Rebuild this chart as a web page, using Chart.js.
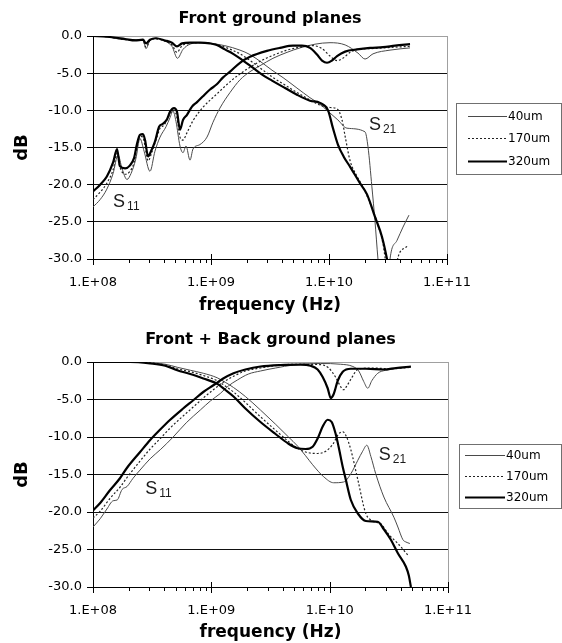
<!DOCTYPE html>
<html>
<head>
<meta charset="utf-8">
<title>S-parameters vs frequency</title>
<script src="https://cdn.jsdelivr.net/npm/chart.js@4.4.1/dist/chart.umd.min.js"></script>
<style>
  body { margin: 0; background: #fff; }
  canvas { display: block; }
</style>
</head>
<body>
<canvas id="front" width="562" height="321"></canvas>
<canvas id="back" width="562" height="322"></canvas>
<script>
// ground plane thicknesses, one legend entry each
const thicknesses = ['40um', '170um', '320um'];

// x axis ticks (Hz); only the decades get a label
const freqTicks = [1e8, 2e8, 3e8, 4e8, 5e8, 6e8, 7e8, 8e8, 9e8,
                   1e9, 2e9, 3e9, 4e9, 5e9, 6e9, 7e9, 8e9, 9e9,
                   1e10, 2e10, 3e10, 4e10, 5e10, 6e10, 7e10, 8e10, 9e10, 1e11];
const decadeTicks = [1e8, 1e9, 1e10, 1e11];
const decadeLabels = ['1.E+08', '1.E+09', '1.E+10', '1.E+11'];

// measured curves as [frequency (Hz), dB]

// front ground planes only
const frontS11_40 = [[1.00e8,-23.0],[1.15e8,-22.0],[1.31e8,-20.6],[1.48e8,-18.5],[1.63e8,-16.0],[1.76e8,-17.8],
  [1.94e8,-19.3],[2.10e8,-18.5],[2.31e8,-16.5],[2.50e8,-13.8],[2.71e8,-15.5],[3.04e8,-18.2],[3.35e8,-15.5],
  [3.70e8,-13.6],[4.16e8,-12.2],[4.49e8,-11.0],[4.76e8,-10.1],[5.05e8,-11.5],[5.46e8,-14.8],[5.79e8,-15.7],
  [6.14e8,-14.8],[6.64e8,-16.7],[7.04e8,-15.2],[8.07e8,-14.6],[9.25e8,-13.6],[1.04e9,-11.6],[1.19e9,-9.7],
  [1.45e9,-7.6],[1.76e9,-5.9],[2.14e9,-4.8],[2.60e9,-4.0],[3.35e9,-3.0],[4.41e9,-2.2],[5.68e9,-1.6],
  [7.61e9,-1.1],[1.02e10,-0.9],[1.37e10,-1.2],[1.76e10,-2.3],[2.02e10,-3.1],[2.36e10,-2.4],[3.29e10,-1.9],
  [4.86e10,-1.6]];
const frontS11_170 = [[1.00e8,-22.0],[1.15e8,-21.0],[1.31e8,-19.8],[1.48e8,-18.0],[1.60e8,-15.8],[1.69e8,-17.6],
  [1.87e8,-18.6],[2.06e8,-18.2],[2.23e8,-17.0],[2.36e8,-15.0],[2.50e8,-13.5],[2.65e8,-13.6],[2.76e8,-14.8],
  [2.93e8,-16.8],[3.16e8,-15.6],[3.42e8,-14.0],[3.70e8,-12.4],[4.00e8,-12.0],[4.32e8,-11.0],[4.58e8,-10.3],
  [4.86e8,-10.0],[5.15e8,-11.0],[5.46e8,-13.6],[5.79e8,-14.0],[6.26e8,-13.0],[7.04e8,-11.4],[8.55e8,-9.6],
  [1.12e9,-7.8],[1.54e9,-5.8],[2.14e9,-4.2],[2.76e9,-3.2],[3.35e9,-2.6],[4.41e9,-1.9],[5.68e9,-1.5],
  [7.31e9,-1.3],[8.73e9,-1.7],[1.02e10,-2.7],[1.17e10,-3.3],[1.31e10,-3.0],[1.51e10,-2.2],[1.73e10,-1.8],
  [2.23e10,-1.7],[2.87e10,-1.6],[3.63e10,-1.5],[4.86e10,-1.4]];
const frontS11_320 = [[1.00e8,-20.9],[1.15e8,-20.0],[1.31e8,-18.9],[1.48e8,-17.0],[1.60e8,-15.2],[1.69e8,-17.5],
  [1.87e8,-17.8],[2.06e8,-17.4],[2.23e8,-16.4],[2.36e8,-14.5],[2.50e8,-13.3],[2.65e8,-13.2],[2.76e8,-14.0],
  [2.93e8,-16.2],[3.10e8,-15.5],[3.35e8,-14.2],[3.63e8,-12.2],[3.92e8,-11.8],[4.24e8,-11.2],[4.49e8,-10.2],
  [4.86e8,-9.7],[5.15e8,-10.2],[5.46e8,-12.6],[5.79e8,-11.3],[6.26e8,-10.6],[6.90e8,-9.5],[7.61e8,-8.9],
  [8.55e8,-8.1],[9.81e8,-7.2],[1.12e9,-6.5],[1.26e9,-5.6],[1.45e9,-4.8],[1.76e9,-3.6],[2.14e9,-2.8],
  [2.98e9,-2.0],[3.84e9,-1.6],[4.95e9,-1.3],[5.90e9,-1.3],[6.90e9,-1.6],[7.91e9,-2.5],[8.73e9,-3.3],
  [9.62e9,-3.6],[1.06e10,-3.3],[1.17e10,-2.7],[1.37e10,-2.1],[1.73e10,-1.8],[2.23e10,-1.6],[2.87e10,-1.5],
  [3.63e10,-1.3],[4.86e10,-1.1]];
const frontS21_40 = [[1.00e8,0],[1.31e8,-0.1],[1.87e8,-0.5],[2.27e8,-0.5],[2.65e8,-0.5],[2.81e8,-1.7],[3.04e8,-0.6],
  [3.42e8,-0.3],[4.08e8,-0.7],[4.67e8,-1.4],[5.20e8,-3.0],[5.79e8,-1.8],[6.64e8,-1.1],[8.07e8,-0.9],
  [1.00e9,-1.0],[1.31e9,-1.3],[1.76e9,-1.9],[2.14e9,-2.5],[2.71e9,-3.6],[3.29e9,-4.6],[4.08e9,-5.6],
  [5.35e9,-7.0],[6.90e9,-8.3],[8.39e9,-9.2],[9.62e9,-10.0],[1.19e10,-11.3],[1.42e10,-12.4],[2.02e10,-12.9],
  [2.14e10,-14.9],[2.31e10,-20.3],[2.45e10,-24.8],[2.60e10,-30.0],[2.76e10,-34.0],[3.16e10,-34.0],
  [3.29e10,-30.0],[3.77e10,-27.5],[4.24e10,-25.7],[4.76e10,-24.1]];
const frontS21_170 = [[1.00e8,0],[1.31e8,-0.1],[1.87e8,-0.5],[2.27e8,-0.6],[2.65e8,-0.6],[2.81e8,-1.5],[3.04e8,-0.6],
  [3.42e8,-0.4],[4.08e8,-0.7],[4.67e8,-1.2],[5.15e8,-2.2],[5.68e8,-1.3],[6.64e8,-1.0],[8.07e8,-0.9],
  [1.00e9,-1.0],[1.31e9,-1.5],[1.76e9,-2.4],[2.23e9,-3.5],[2.71e9,-4.5],[3.29e9,-5.5],[4.24e9,-6.6],
  [5.35e9,-7.6],[6.90e9,-8.6],[8.39e9,-9.3],[9.81e9,-9.6],[1.17e10,-9.8],[1.29e10,-11.3],[1.37e10,-13.5],
  [1.51e10,-16.8],[1.73e10,-18.9],[1.94e10,-20.3],[2.23e10,-22.5],[2.55e10,-25.0],[2.87e10,-28.0],
  [3.04e10,-30.5],[3.29e10,-32.0],[3.70e10,-31.5],[3.84e10,-29.8],[4.58e10,-28.3]];
const frontS21_320 = [[1.00e8,0],[1.31e8,-0.1],[1.87e8,-0.4],[2.27e8,-0.6],[2.65e8,-0.5],[2.81e8,-1.0],[3.04e8,-0.5],
  [3.42e8,-0.3],[4.08e8,-0.6],[4.67e8,-0.9],[5.15e8,-1.4],[5.68e8,-1.0],[6.64e8,-0.9],[8.07e8,-0.9],
  [9.81e8,-1.0],[1.12e9,-1.2],[1.31e9,-1.8],[1.54e9,-2.4],[1.83e9,-3.2],[2.23e9,-4.2],[2.71e9,-5.2],
  [3.29e9,-6.0],[4.24e9,-7.0],[5.35e9,-7.9],[6.90e9,-8.7],[8.39e9,-9.0],[9.81e9,-10.0],[1.08e10,-12.4],
  [1.19e10,-14.6],[1.34e10,-16.3],[1.51e10,-17.6],[1.83e10,-19.8],[2.10e10,-21.3],[2.45e10,-24.3],
  [2.81e10,-27.0],[3.10e10,-30.0],[3.22e10,-31.5]];

// front + back ground planes
const backS11_40 = [[1.00e8,-22.0],[1.15e8,-20.9],[1.31e8,-19.6],[1.48e8,-18.5],[1.60e8,-18.4],[1.76e8,-17.0],
  [1.94e8,-16.6],[2.18e8,-15.5],[2.50e8,-14.4],[3.04e8,-12.9],[3.70e8,-11.7],[4.76e8,-10.0],[6.14e8,-8.1],
  [8.07e8,-6.4],[9.81e8,-5.2],[1.19e9,-4.2],[1.39e9,-3.2],[1.66e9,-2.4],[2.06e9,-1.6],[2.60e9,-1.2],
  [3.49e9,-0.8],[4.95e9,-0.4],[8.39e9,-0.2],[1.24e10,-0.3],[1.57e10,-0.6],[1.76e10,-1.2],[1.94e10,-2.6],
  [2.10e10,-3.5],[2.27e10,-2.5],[2.55e10,-1.5],[2.98e10,-1.1],[3.63e10,-0.9],[4.86e10,-0.7]];
const backS11_170 = [[1.00e8,-20.8],[1.15e8,-19.9],[1.39e8,-18.2],[1.69e8,-16.7],[1.94e8,-15.4],[2.50e8,-13.2],
  [3.04e8,-11.6],[3.70e8,-10.2],[4.49e8,-8.8],[5.68e8,-7.3],[7.04e8,-6.0],[8.55e8,-4.8],[1.04e9,-3.7],
  [1.26e9,-2.7],[1.54e9,-1.9],[1.94e9,-1.2],[2.60e9,-0.8],[3.84e9,-0.4],[5.68e9,-0.3],[8.39e9,-0.35],
  [9.81e9,-0.8],[1.12e10,-2.0],[1.24e10,-3.3],[1.31e10,-3.7],[1.42e10,-3.0],[1.51e10,-2.3],[1.73e10,-1.0],
  [2.23e10,-0.8],[3.29e10,-0.9],[4.86e10,-0.7]];
const backS11_320 = [[1.00e8,-19.8],[1.15e8,-18.8],[1.39e8,-17.1],[1.69e8,-15.5],[1.94e8,-14.1],[2.50e8,-12.0],
  [3.04e8,-10.4],[3.70e8,-9.0],[4.49e8,-7.7],[5.68e8,-6.3],[7.04e8,-5.1],[8.55e8,-4.0],[1.04e9,-3.1],
  [1.26e9,-2.2],[1.54e9,-1.5],[1.94e9,-1.0],[2.60e9,-0.6],[3.84e9,-0.4],[5.68e9,-0.35],[6.90e9,-0.5],
  [7.91e9,-1.0],[8.73e9,-2.0],[9.62e9,-3.5],[1.02e10,-4.8],[1.08e10,-4.3],[1.17e10,-2.5],[1.29e10,-1.3],
  [1.51e10,-0.9],[2.02e10,-0.9],[2.87e10,-1.0],[3.63e10,-0.8],[4.86e10,-0.6]];
const backS21_40 = [[1.00e8,0],[3.04e8,-0.1],[4.08e8,-0.3],[5.15e8,-0.7],[6.64e8,-1.1],[8.55e8,-1.5],[1.12e9,-2.1],
  [1.31e9,-2.7],[1.54e9,-3.4],[1.94e9,-4.6],[2.60e9,-6.4],[3.49e9,-8.3],[4.49e9,-10.0],[5.35e9,-11.2],
  [6.26e9,-12.5],[7.18e9,-13.7],[8.90e9,-15.3],[1.08e10,-16.1],[1.31e10,-16.0],[1.51e10,-14.9],
  [1.73e10,-13.1],[1.90e10,-11.9],[2.06e10,-11.1],[2.23e10,-12.6],[2.45e10,-14.9],[2.87e10,-18.0],
  [3.49e10,-20.7],[3.77e10,-22.0],[4.16e10,-23.7],[4.41e10,-24.0],[4.76e10,-24.2]];
const backS21_170 = [[1.00e8,0],[2.06e8,0],[3.04e8,-0.1],[4.08e8,-0.4],[5.15e8,-0.9],[6.64e8,-1.3],[8.55e8,-1.8],
  [1.12e9,-2.5],[1.31e9,-3.2],[1.54e9,-4.0],[1.94e9,-5.4],[2.60e9,-7.3],[3.49e9,-9.1],[4.49e9,-10.6],
  [5.35e9,-11.5],[6.26e9,-12.0],[7.91e9,-12.2],[9.25e9,-11.9],[1.06e10,-11.0],[1.19e10,-9.6],[1.29e10,-9.3],
  [1.39e10,-10.0],[1.51e10,-11.7],[1.73e10,-15.7],[2.02e10,-20.2],[2.31e10,-21.2],[2.71e10,-21.6],
  [3.16e10,-23.0],[3.77e10,-24.2],[4.67e10,-25.9]];
const backS21_320 = [[1.00e8,0],[2.06e8,0],[3.04e8,-0.2],[4.08e8,-0.5],[5.15e8,-1.1],[6.64e8,-1.6],[8.55e8,-2.2],
  [1.12e9,-2.9],[1.31e9,-3.7],[1.54e9,-4.6],[1.94e9,-6.2],[2.60e9,-8.0],[3.49e9,-9.6],[4.49e9,-10.9],
  [5.35e9,-11.5],[6.26e9,-11.6],[7.18e9,-11.3],[7.91e9,-10.2],[8.73e9,-8.6],[9.62e9,-7.7],[1.04e10,-8.0],
  [1.12e10,-9.5],[1.19e10,-11.3],[1.29e10,-14.0],[1.37e10,-15.7],[1.51e10,-18.4],[1.73e10,-20.2],
  [2.02e10,-21.2],[2.55e10,-21.3],[2.87e10,-22.3],[3.29e10,-23.7],[3.77e10,-25.5],[4.41e10,-27.3],
  [4.67e10,-28.5],[4.86e10,-30.0]];

// S11 / S21 tags, anchored at (frequency, dB)
const frontTags = [{ sub: '11', f: 1.48e8, db: -23.0 }, { sub: '21', f: 2.18e10, db: -12.65 }];
const backTags = [{ sub: '11', f: 2.76e8, db: -17.6 }, { sub: '21', f: 2.60e10, db: -13.1 }];

const lineStyles = {
  '40um':  { color: '#4a4a4a', width: 1,   dash: [] },
  '170um': { color: '#222222', width: 1.2, dash: [2, 2] },
  '320um': { color: '#000000', width: 2.2, dash: [] }
};

Chart.defaults.font.family = '"DejaVu Sans", sans-serif';
Chart.defaults.color = '#000';

// thickest line first so it ends up drawn on top
function curves(s11, s21) {
  const sets = [];
  for (let i = thicknesses.length - 1; i >= 0; i--) {
    const st = lineStyles[thicknesses[i]];
    [s11[i], s21[i]].forEach(pts => sets.push({
      label: thicknesses[i],
      data: pts.map(([f, db]) => ({ x: f, y: db })),
      borderColor: st.color,
      borderWidth: st.width,
      borderDash: st.dash,
      pointRadius: 0,
      fill: false,
      cubicInterpolationMode: 'monotone'
    }));
  }
  return sets;
}

// gray right edge of the plot, decade / sub-decade tick marks on the x axis
const axisFrame = {
  id: 'axisFrame',
  afterDraw(chart) {
    const { ctx, chartArea: a, scales: { x } } = chart;
    ctx.save();
    ctx.lineWidth = 1;
    ctx.strokeStyle = '#a0a0a0';
    const rx = Math.round(a.right) + 0.5;
    ctx.beginPath();
    ctx.moveTo(rx, a.top);
    ctx.lineTo(rx, a.bottom);
    ctx.stroke();
    ctx.strokeStyle = '#000';
    ctx.beginPath();
    x.ticks.forEach(t => {
      const px = Math.round(x.getPixelForValue(t.value)) + 0.5;
      const major = decadeTicks.includes(t.value);
      ctx.moveTo(px, a.bottom - (major ? 5 : 0));
      ctx.lineTo(px, a.bottom + (major ? 6 : 4));
    });
    ctx.stroke();
    ctx.restore();
  }
};

// boxed legend with line samples
const sampleLegend = {
  id: 'sampleLegend',
  afterDraw(chart, args, opts) {
    const { ctx } = chart;
    const b = opts.box;
    ctx.save();
    ctx.lineWidth = 1;
    ctx.strokeStyle = '#707070';
    ctx.strokeRect(b.left + 0.5, b.top + 0.5, b.right - b.left, b.bottom - b.top);
    ctx.font = '12px "DejaVu Sans"';
    ctx.textBaseline = 'middle';
    ctx.fillStyle = '#000';
    thicknesses.forEach((name, i) => {
      const st = lineStyles[name];
      const y = opts.rows[i] + 0.5;
      ctx.strokeStyle = st.color;
      ctx.lineWidth = st.width;
      ctx.setLineDash(st.dash);
      ctx.beginPath();
      ctx.moveTo(opts.lineFrom, y);
      ctx.lineTo(opts.lineTo, y);
      ctx.stroke();
      ctx.fillText(name, opts.lineTo + 1, y);
    });
    ctx.restore();
  }
};

// "S11" / "S21" tags with subscripts
const partTags = {
  id: 'partTags',
  afterDatasetsDraw(chart, args, opts) {
    const { ctx, scales: { x, y } } = chart;
    ctx.save();
    ctx.fillStyle = '#1a1a1a';
    ctx.textBaseline = 'alphabetic';
    opts.items.forEach(t => {
      const px = x.getPixelForValue(t.f);
      const py = y.getPixelForValue(t.db);
      ctx.font = '18px "Liberation Sans"';
      ctx.fillText('S', px, py);
      const w = ctx.measureText('S').width;
      ctx.font = '12px "Liberation Sans"';
      ctx.fillText(t.sub, px + w + 2, py + 3);
    });
    ctx.restore();
  }
};

function buildChart(id, cfg) {
  return new Chart(document.getElementById(id), {
    type: 'line',
    data: { datasets: curves(cfg.s11, cfg.s21) },
    options: {
      responsive: false,
      animation: false,
      events: [],
      layout: { padding: { left: 0, right: cfg.padRight, top: 0, bottom: 0 } },
      plugins: {
        legend: { display: false },
        tooltip: { enabled: false },
        title: {
          display: true,
          text: cfg.title,
          fullSize: false,
          color: '#000',
          font: { size: 16, weight: 'bold' },
          padding: cfg.titlePad
        },
        sampleLegend: cfg.legend,
        partTags: { items: cfg.tags }
      },
      scales: {
        x: {
          type: 'logarithmic',
          min: 1e8,
          max: 1e11,
          afterBuildTicks: s => { s.ticks = freqTicks.map(v => ({ value: v })); },
          afterFit: s => { s.height = cfg.xHeight; },
          grid: { display: false },
          border: { display: true, color: '#000', width: 1 },
          ticks: {
            autoSkip: false,
            maxRotation: 0,
            padding: 8,
            font: { size: 13 },
            callback: v => {
              const i = decadeTicks.indexOf(v);
              return i < 0 ? '' : decadeLabels[i];
            }
          },
          title: {
            display: true,
            text: 'frequency (Hz)',
            font: { size: 17, weight: 'bold' },
            padding: { top: 0, bottom: cfg.xTitlePad }
          }
        },
        y: {
          min: -30,
          max: 0,
          afterFit: s => { s.width = 93; },
          ticks: { stepSize: 5, padding: 5, font: { size: 13 }, callback: v => v.toFixed(1) },
          grid: {
            color: c => (c.tick && c.tick.value === 0 ? '#a0a0a0' : '#111'),
            tickColor: '#000',
            tickLength: 6
          },
          border: { display: true, color: '#000' },
          title: {
            display: true,
            text: 'dB',
            font: { size: 18, weight: 'bold' },
            padding: { top: 12, bottom: 0 }
          }
        }
      }
    },
    plugins: [axisFrame, sampleLegend, partTags]
  });
}

buildChart('front', {
  title: 'Front ground planes',
  s11: [frontS11_40, frontS11_170, frontS11_320],
  s21: [frontS21_40, frontS21_170, frontS21_320],
  tags: frontTags,
  padRight: 115,
  titlePad: { top: 9, bottom: 7.8 },
  xHeight: 62,
  xTitlePad: 5,
  legend: { box: { left: 456, top: 103, right: 561, bottom: 174 }, rows: [116, 138, 161], lineFrom: 468, lineTo: 507 }
});

buildChart('back', {
  title: 'Front + Back ground planes',
  s11: [backS11_40, backS11_170, backS11_320],
  s21: [backS21_40, backS21_170, backS21_320],
  tags: backTags,
  padRight: 114,
  titlePad: { top: 9, bottom: 12.8 },
  xHeight: 56,
  xTitlePad: 0,
  legend: { box: { left: 459, top: 123, right: 561, bottom: 187 }, rows: [134, 155, 176], lineFrom: 465, lineTo: 505 }
});
</script>
</body>
</html>
